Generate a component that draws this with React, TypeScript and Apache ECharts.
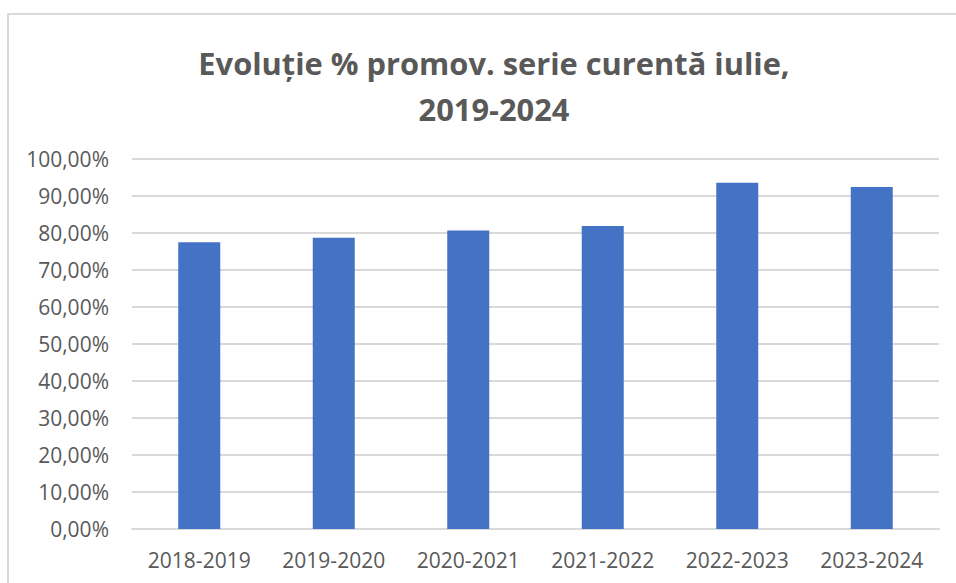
import React, { useEffect, useRef } from "react";
import * as echarts from "echarts";

const categories: string[] = ["2018-2019", "2019-2020", "2020-2021", "2021-2022", "2022-2023", "2023-2024"];
const promovValues: number[] = [0.775, 0.787, 0.807, 0.819, 0.936, 0.924];
const titleLines: string[] = ["Evoluție % promov. serie curentă iulie,", "2019-2024"];
const yMin = 0;
const yMax = 1;
const yInterval = 0.1;

const fmtPct = (v: number) => (v * 100).toFixed(2).replace(".", ",") + "%";

export default function App() {
  const ref = useRef<HTMLDivElement>(null);
  useEffect(() => {
    document.body.style.margin = "0";
    if (!ref.current) return;
    const chart = echarts.init(ref.current, undefined, { renderer: "svg" });
    const font = "'Open Sans', 'Noto Sans', sans-serif";
    chart.setOption({
      animation: false,
      backgroundColor: "#ffffff",
      title: {
        text: titleLines.join("\n"),
        left: 489,
        top: 35,
        textAlign: "center",
        textStyle: {
          fontFamily: font,
          fontSize: 30.8,
          fontWeight: "bold",
          color: "#595959",
          lineHeight: 46,
        },
      },
      graphic: [
        {
          type: "rect",
          shape: { x: 8, y: 14, width: 990, height: 620 },
          style: { fill: "none", stroke: "#d9d9d9", lineWidth: 2 },
          silent: true,
          z: -1,
        },
      ],
      grid: { left: 132, right: 17, top: 159, bottom: 54 },
      xAxis: {
        type: "category",
        data: categories,
        axisLine: { show: true, lineStyle: { color: "#d9d9d9", width: 2 } },
        axisTick: { show: false },
        axisLabel: { color: "#595959", fontFamily: font, fontSize: 21, margin: 20 },
      },
      yAxis: {
        type: "value",
        min: yMin,
        max: yMax,
        interval: yInterval,
        axisLine: { show: false },
        axisTick: { show: false },
        splitLine: { lineStyle: { color: "#d9d9d9", width: 2 } },
        axisLabel: {
          color: "#595959",
          fontFamily: font,
          fontSize: 21,
          margin: 23,
          formatter: (v: number) => fmtPct(v),
        },
      },
      series: [
        {
          type: "bar",
          data: promovValues,
          barWidth: 42,
          itemStyle: { color: "#4472C4" },
        },
      ],
    });
    return () => chart.dispose();
  }, []);
  return <div ref={ref} style={{ width: 956, height: 583 }} />;
}
